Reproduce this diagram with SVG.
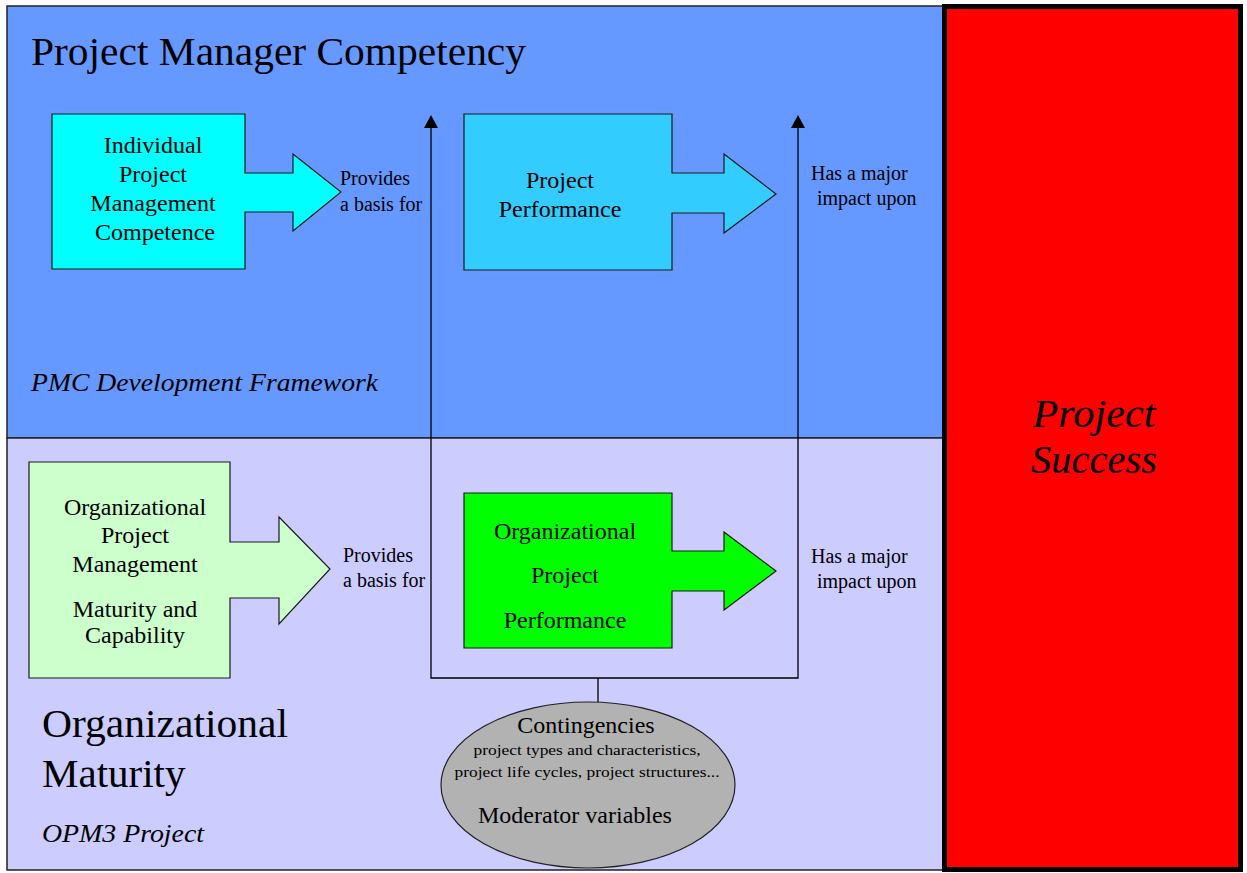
<svg xmlns="http://www.w3.org/2000/svg" width="1247" height="873" viewBox="0 0 1247 873" font-family="'Liberation Serif', Tinos, 'Times New Roman', Times, serif">
  <defs>
    <style>
      text { font-family: 'Liberation Serif', Tinos, 'Times New Roman', Times, serif; fill: #000; }
      .box { stroke: #1a1a1a; stroke-width: 1.2; }
      .lbl { font-size: 20px; }
      .node { font-size: 24px; text-anchor: middle; }
      .big { font-size: 41px; }
      .sub { font-size: 25px; font-style: italic; }
      .line { fill: none; stroke: #000; stroke-width: 1.3; }
    </style>
  </defs>

  <rect width="1247" height="873" fill="#ffffff"/>

  <!-- framework panels -->
  <g id="panel-pmc">
    <rect x="7" y="6" width="936" height="432" fill="#6699FF" stroke="#222" stroke-width="1.5"/>
    <text x="31" y="65" class="big" textLength="495" lengthAdjust="spacingAndGlyphs">Project Manager Competency</text>
    <text x="31" y="391" class="sub" textLength="347" lengthAdjust="spacingAndGlyphs">PMC Development Framework</text>
  </g>
  <g id="panel-opm">
    <rect x="7" y="438" width="936" height="432" fill="#CCCCFF" stroke="#222" stroke-width="1.5"/>
    <text x="42" y="737" class="big" textLength="246" lengthAdjust="spacingAndGlyphs">Organizational</text>
    <text x="42" y="787" class="big">Maturity</text>
    <text x="42" y="842" class="sub" textLength="162" lengthAdjust="spacingAndGlyphs">OPM3 Project</text>
  </g>

  <!-- outcome -->
  <g id="project-success">
    <rect x="944.5" y="6.5" width="296" height="863" fill="#FF0000" stroke="#000" stroke-width="5"/>
    <text x="1094" y="427" font-size="39" font-style="italic" text-anchor="middle" textLength="123" lengthAdjust="spacingAndGlyphs">Project</text>
    <text x="1094" y="473" font-size="39" font-style="italic" text-anchor="middle" textLength="126" lengthAdjust="spacingAndGlyphs">Success</text>
  </g>

  <!-- connectors: feedback loop and moderator stem -->
  <g id="connectors">
    <path class="line" d="M431,128 V678 H798 V128"/>
    <path d="M424,128 L431,115 L438,128 Z" fill="#000"/>
    <path d="M791,128 L798,115 L805,128 Z" fill="#000"/>
    <path class="line" d="M598,678 V702"/>
  </g>

  <!-- arrow-shaped nodes -->
  <g id="individual-competence">
    <polygon class="box" fill="#00FFFF" points="52,114 245,114 245,173 293,173 293,154 341,192 293,231 293,212 245,212 245,269 52,269"/>
    <text class="node" x="153" y="153">Individual</text>
    <text class="node" x="153" y="182">Project</text>
    <text class="node" x="153" y="211">Management</text>
    <text class="node" x="155" y="240">Competence</text>
  </g>
  <g id="label-provides-top">
    <text class="lbl" x="340" y="185">Provides</text>
    <text class="lbl" x="340" y="211">a basis for</text>
  </g>

  <g id="project-performance">
    <polygon class="box" fill="#33CCFF" points="464,114 672,114 672,173 724,173 724,154 776,194 724,233 724,213 672,213 672,270 464,270"/>
    <text class="node" x="560" y="188">Project</text>
    <text class="node" x="560" y="217">Performance</text>
  </g>
  <g id="label-impact-top">
    <text class="lbl" x="811" y="180">Has a major</text>
    <text class="lbl" x="817" y="205">impact upon</text>
  </g>

  <g id="opm-maturity">
    <polygon class="box" fill="#CCFFCC" points="29,462 230,462 230,542 279,542 279,517 330,569 279,624 279,598 230,598 230,678 29,678"/>
    <text class="node" x="135" y="515">Organizational</text>
    <text class="node" x="135" y="543">Project</text>
    <text class="node" x="135" y="572">Management</text>
    <text class="node" x="135" y="617">Maturity and</text>
    <text class="node" x="135" y="643">Capability</text>
  </g>
  <g id="label-provides-bottom">
    <text class="lbl" x="343" y="562">Provides</text>
    <text class="lbl" x="343" y="587">a basis for</text>
  </g>

  <g id="org-performance">
    <polygon class="box" fill="#00FF00" points="464,493 672,493 672,551 724,551 724,532 776,571 724,610 724,591 672,591 672,648 464,648"/>
    <text class="node" x="565" y="539">Organizational</text>
    <text class="node" x="565" y="583">Project</text>
    <text class="node" x="565" y="628">Performance</text>
  </g>
  <g id="label-impact-bottom">
    <text class="lbl" x="811" y="563">Has a major</text>
    <text class="lbl" x="817" y="588">impact upon</text>
  </g>

  <!-- moderator variables -->
  <g id="contingencies">
    <ellipse cx="588" cy="785" rx="147" ry="83" fill="#B2B2B2" stroke="#222" stroke-width="1.2"/>
    <text class="node" x="586" y="733">Contingencies</text>
    <text x="587" y="755" font-size="15" text-anchor="middle" textLength="227" lengthAdjust="spacingAndGlyphs">project types and characteristics,</text>
    <text x="587" y="777" font-size="15" text-anchor="middle" textLength="265" lengthAdjust="spacingAndGlyphs">project life cycles, project structures...</text>
    <text class="node" x="575" y="823">Moderator variables</text>
  </g>
</svg>
